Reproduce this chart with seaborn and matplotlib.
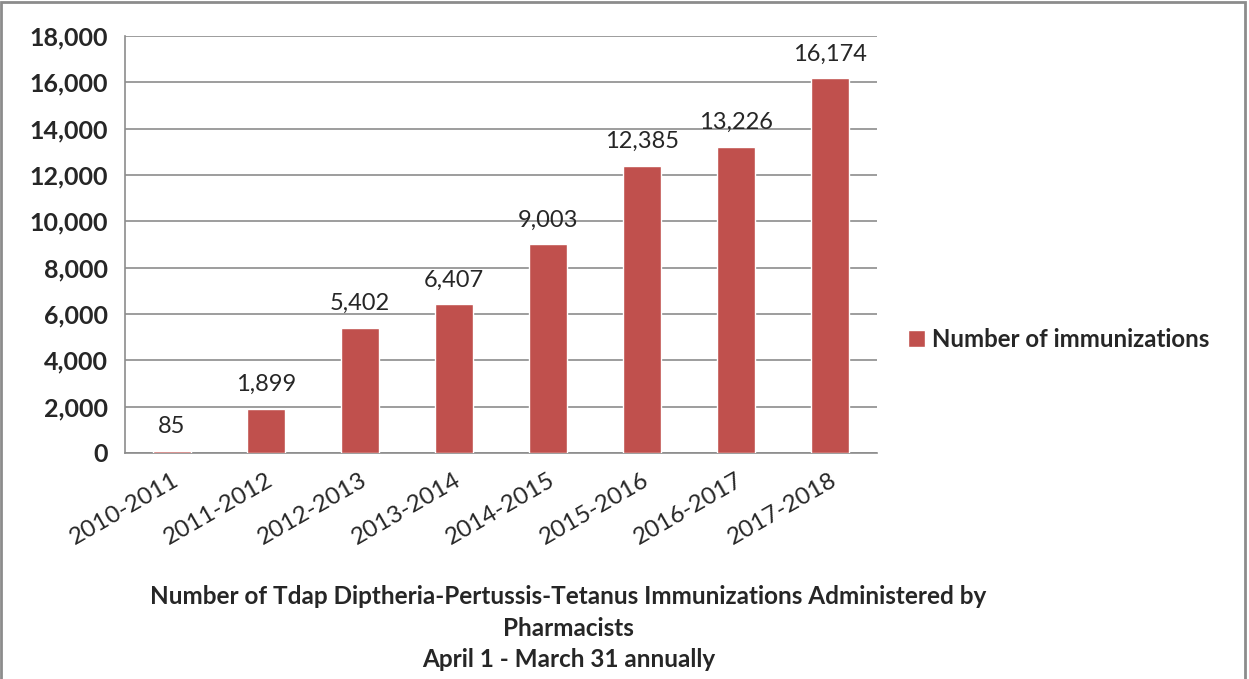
import matplotlib
matplotlib.use("Agg")
import matplotlib.pyplot as plt
import seaborn as sns
import pandas as pd
from matplotlib.patches import Rectangle
from matplotlib.ticker import FuncFormatter, MultipleLocator

seasons = ['2010-2011', '2011-2012', '2012-2013', '2013-2014',
           '2014-2015', '2015-2016', '2016-2017', '2017-2018']
immunizations = [85, 1899, 5402, 6407, 9003, 12385, 13226, 16174]

df = pd.DataFrame({'Season': seasons, 'Count': immunizations})

sns.set_style('white')
plt.rcParams['font.family'] = ['Lato', 'DejaVu Sans']

bar_color = '#C0504D'
grid_color = '#8C8C8C'

fig = plt.figure(figsize=(12.49, 6.79), dpi=100)
ax = fig.add_axes([0.100, 0.333, 0.602, 0.614])

sns.barplot(data=df, x='Season', y='Count', color=bar_color, width=0.4,
            saturation=1, label='Number of immunizations', ax=ax, zorder=3)

ax.set_xlim(-0.5, len(seasons) - 0.5)
ax.set_ylim(0, 18000)
ax.yaxis.set_major_locator(MultipleLocator(2000))
ax.yaxis.set_major_formatter(FuncFormatter(lambda v, p: f'{int(v):,}'))
ax.grid(axis='y', color=grid_color, linewidth=1.2, zorder=0)
ax.set_axisbelow(True)

for s in ['top', 'right']:
    ax.spines[s].set_visible(False)
for s in ['left', 'bottom']:
    ax.spines[s].set_color(grid_color)
    ax.spines[s].set_linewidth(1.2)

# category ticks sit between the bars
ax.set_xticks([i - 0.5 for i in range(len(seasons) + 1)], minor=True)
ax.tick_params(axis='x', which='minor', length=8, width=1.2, color=grid_color, direction='out')
ax.tick_params(axis='x', which='major', length=0, pad=12)
ax.tick_params(axis='y', length=8, width=1.2, color=grid_color, direction='out', pad=4)

for lab in ax.get_yticklabels():
    lab.set_fontsize(18)
    lab.set_fontweight('bold')
ax.set_xticks(range(len(seasons)))
ax.set_xticklabels(seasons, rotation=30, ha='right', rotation_mode='anchor', fontsize=17.5)

ax.set_xlabel('')
ax.set_ylabel('')

for i, v in enumerate(immunizations):
    ax.text(i, v + 600, f'{v:,}', ha='center', va='bottom', fontsize=17, zorder=4)

leg = ax.legend(loc='center left', bbox_to_anchor=(1.013, 0.273), frameon=False,
                handlelength=0.7, handleheight=0.7, handletextpad=0.3,
                prop={'size': 17.3, 'weight': 'bold'})

title_kw = dict(ha='center', va='center', fontsize=17.5, fontweight='bold')
fig.text(0.455, 0.121, 'Number of Tdap Diptheria-Pertussis-Tetanus Immunizations Administered by', **title_kw)
fig.text(0.455, 0.075, 'Pharmacists', **title_kw)
fig.text(0.455, 0.028, 'April 1 - March 31 annually', **title_kw)

fig.patches.append(Rectangle((0.001, -0.01), 0.996, 1.007, transform=fig.transFigure,
                             fill=False, edgecolor='#8C8C8C', linewidth=2))

fig.savefig('out.png', dpi=100)
